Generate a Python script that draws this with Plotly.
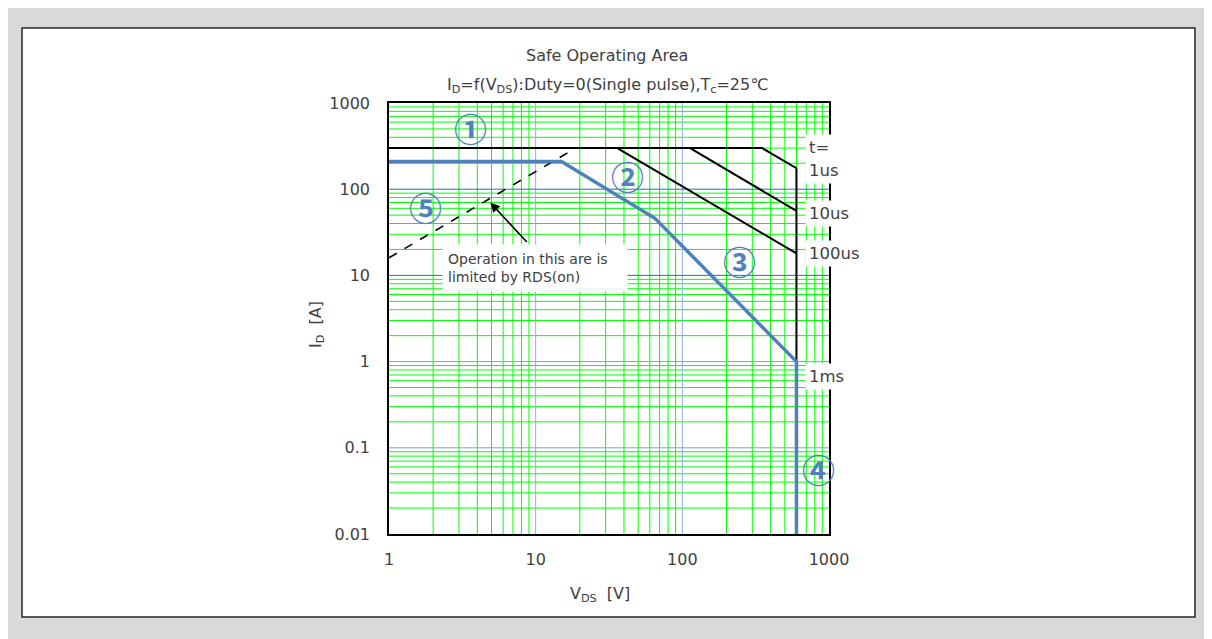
import math
import plotly.graph_objects as go

# ---------------- data ----------------
v_1us = [1, 350, 600]
i_1us = [300, 300, 175]
v_10us = [113, 600]
i_10us = [300, 56]
v_100us = [36, 600]
i_100us = [300, 18]
v_wall = [600, 600]
i_wall = [175, 0.01]
v_1ms = [1, 15, 65, 600, 600]
i_1ms = [210, 210, 46, 1, 0.01]
v_rds = [1, 18.75]
i_rds = [16, 300]

x_decades = [1, 10, 100]
y_decades = [0.01, 0.1, 1, 10, 100]
x_major_grid = [10, 100]
y_major_grid_dark = [10, 100]
y_major_grid_light = [0.1, 1]
x_range = [1, 1000]
y_range = [0.01, 1000]

region_labels = ["①", "②", "③", "④", "⑤"]
region_v = [3.6, 42.5, 247, 853, 1.76]
region_i = [512, 142, 14.6, 0.057, 61.8]

pulse_labels = ["t=", "1us", "10us", "100us", "1ms"]
pulse_i = [308, 166, 52.6, 18.0, 0.67]
pulse_v = 690

FONT = "DejaVu Sans"
TXT = "#404040"
BLUE = "#4f81bd"

# page is offset by the 8px body margin
OFF = 8
W, H = 1212, 639
L, R, T, B = 389, 829, 103, 534  # plot area in page pixels


def px(x):
    return (x - L) / (R - L)


def py(y):
    return (B - y) / (B - T)


def vlines(vals):
    xs, ys = [], []
    for v in vals:
        xs += [v, v, None]
        ys += [y_range[0], y_range[1], None]
    return xs, ys


def hlines(vals):
    xs, ys = [], []
    for v in vals:
        xs += [x_range[0], x_range[1], None]
        ys += [v, v, None]
    return xs, ys


x_minor = [d * k for d in x_decades for k in range(2, 10)]
y_minor = [d * k for d in y_decades for k in range(2, 10)]

fig = go.Figure()
# grid
for (xs, ys), col in [(vlines(x_minor), "#00ff00"), (hlines(y_minor), "#00ff00"),
                      (vlines(x_major_grid), "#8eaee0"),
                      (hlines(y_major_grid_light), "#7aa3d8"),
                      (hlines(y_major_grid_dark), "#2070c0")]:
    fig.add_trace(go.Scatter(x=xs, y=ys, mode="lines", line=dict(color=col, width=1),
                             hoverinfo="skip", connectgaps=False))

for vx, iy in [(v_1us, i_1us), (v_10us, i_10us), (v_100us, i_100us), (v_wall, i_wall)]:
    fig.add_trace(go.Scatter(x=vx, y=iy, mode="lines",
                             line=dict(color="black", width=2), hoverinfo="skip"))
fig.add_trace(go.Scatter(x=v_rds, y=i_rds, mode="lines",
                         line=dict(color="black", width=1.6, dash="dash"), hoverinfo="skip"))
fig.add_trace(go.Scatter(x=v_1ms, y=i_1ms, mode="lines",
                         line=dict(color=BLUE, width=3.5), hoverinfo="skip"))

ann = []


def page_text(text, x, y, size, angle=0):
    ann.append(dict(text=text, xref="paper", yref="paper", x=px(x), y=py(y),
                    xanchor="center", yanchor="middle", showarrow=False, textangle=angle,
                    font=dict(family=FONT, size=size, color=TXT)))


page_text("Safe Operating Area", 607, 56, 16)
page_text("I<sub>D</sub>=f(V<sub>DS</sub>):Duty=0(Single pulse),T<sub>c</sub>=25℃", 607, 85, 16)
page_text("V<sub>DS</sub>  [V]", 600, 594, 16)
page_text("I<sub>D</sub>  [A]", 316, 325, 16, -90)

for t, vv, ii in zip(region_labels, region_v, region_i):
    ann.append(dict(text="<b>" + t + "</b>", x=math.log10(vv), y=math.log10(ii),
                    xref="x", yref="y", xanchor="center", yanchor="middle",
                    showarrow=False,
                    font=dict(family="Noto Sans CJK JP", size=33, color=BLUE)))

for t, ii in zip(pulse_labels, pulse_i):
    ann.append(dict(text=t, x=math.log10(pulse_v), y=math.log10(ii), xref="x", yref="y",
                    xanchor="left", yanchor="middle", showarrow=False,
                    bgcolor="white", borderpad=3,
                    font=dict(family=FONT, size=16.5, color=TXT)))

ann.append(dict(text="Operation in this are is<br>limited by RDS(on)",
                x=math.log10(9.97), y=math.log10(12.2), xref="x", yref="y",
                xanchor="center", yanchor="middle",
                showarrow=False, bgcolor="white", align="left", width=174, height=36,
                borderpad=5, font=dict(family=FONT, size=14, color=TXT)))
ann.append(dict(text="", x=math.log10(4.9), y=math.log10(70), xref="x", yref="y",
                ax=38, ay=41, showarrow=True, arrowhead=2, arrowsize=1.2,
                arrowwidth=1.6, arrowcolor="black"))

shapes = [
    dict(type="rect", xref="paper", yref="paper", layer="below",
         x0=px(22), x1=px(1195), y0=py(617), y1=py(28),
         fillcolor="white", line=dict(color="#262626", width=1.5)),
]

axis_common = dict(type="log", showline=True, linecolor="black", linewidth=1.5,
                   mirror=True, zeroline=False, ticks="", dtick=1, showgrid=False,
                   exponentformat="none",
                   tickfont=dict(family=FONT, size=16, color=TXT))

fig.update_layout(
    width=W, height=H,
    margin=dict(l=L - OFF, r=W - (R - OFF), t=T - OFF, b=H - (B - OFF)),
    paper_bgcolor="#d9d9d9", plot_bgcolor="white",
    showlegend=False,
    annotations=ann, shapes=shapes,
    xaxis=dict(**axis_common, range=[0, 3], ticklabelstandoff=10),
    yaxis=dict(**axis_common, range=[-2, 3], ticklabelstandoff=14),
)

fig.write_html("out.html")
